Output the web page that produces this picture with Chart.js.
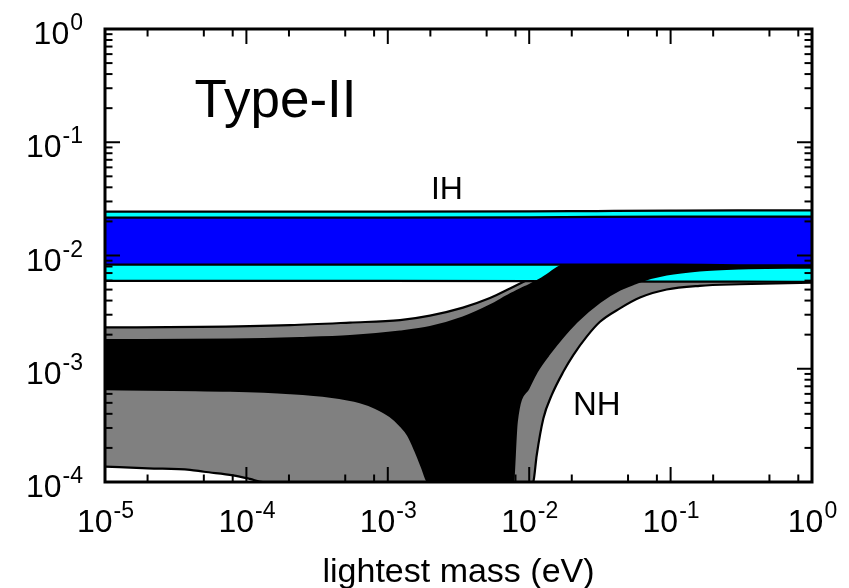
<!DOCTYPE html>
<html lang="en">
<head>
<meta charset="utf-8" />
<title>Type-II</title>
<script src="https://cdn.jsdelivr.net/npm/chart.js@4.4.0/dist/chart.umd.min.js"></script>
<style>
  body { margin: 0; background: #fff; }
</style>
</head>
<body>
<canvas id="meeChart" width="849" height="588"></canvas>
<script>
// lightest mass (eV) against |m_ee| (eV)
// IH: 3 sigma (cyan) and best fit (blue) bands
var ihMass = [1e-5, 1e-4, 1e-3, 1e-2, 3e-2, 0.1, 0.3, 1];
var ih3Hi  = [0.0244, 0.0244, 0.0244, 0.0245, 0.0247, 0.0249, 0.0250, 0.0250];
var ih3Lo  = [0.00598, 0.00598, 0.00598, 0.00595, 0.0059, 0.00588, 0.00587, 0.00586];
var ih1Hi  = [0.0216, 0.0216, 0.0216, 0.0217, 0.0219, 0.0220, 0.0220, 0.0220];
var ih1Lo  = [0.0083, 0.0083, 0.0083, 0.0083, 0.0083, 0.0083, 0.0082, 0.0082];

// NH: 3 sigma (grey) upper and lower edges
var nh3HiMass = [1e-5, 4.696e-5, 2.033e-4, 5.40e-4, 1.22e-3, 1.988e-3, 3.401e-3, 5.28e-3, 7.31e-3, 9.647e-3, 1.293e-2, 3.17e-2, 9.91e-2, 1];
var nh3Hi     = [2.318e-3, 2.342e-3, 2.429e-3, 2.557e-3, 2.690e-3, 2.948e-3, 3.469e-3, 4.209e-3, 5.108e-3, 6.073e-3, 7.37e-3, 0.0125, 0.0186, 0.023];
var nh3LoMass = [1e-5, 2.01e-5, 3.99e-5, 5.01e-5, 8.04e-5, 1.06e-4, 1.31e-4, 1.47e-4, 1.66e-4, 9.0e-3, 1.038e-2, 1.069e-2, 1.13e-2, 1.259e-2, 1.442e-2, 1.742e-2, 2.05e-2, 2.55e-2, 3.167e-2, 4.386e-2, 6.075e-2, 9.384e-2, 0.1606, 0.3082, 1];
var nh3Lo     = [1.368e-4, 1.321e-4, 1.282e-4, 1.231e-4, 1.146e-4, 1.067e-4, 1.0e-4, 9.64e-5, 1e-8, 1e-8, 8.45e-5, 1.0e-4, 1.722e-4, 3.636e-4, 5.843e-4, 9.39e-4, 1.319e-3, 1.922e-3, 2.599e-3, 3.413e-3, 4.252e-3, 5.005e-3, 5.397e-3, 5.575e-3, 5.759e-3];

// NH: best fit (black) upper and lower edges
var nh1HiMass = [1e-5, 7.66e-5, 2.393e-4, 5.40e-4, 1.22e-3, 1.988e-3, 3.401e-3, 5.28e-3, 7.31e-3, 9.339e-3, 1.1924e-2, 1.598e-2, 2.287e-2, 3.17e-2, 9.91e-2, 1];
var nh1Hi     = [1.79e-3, 1.808e-3, 1.865e-3, 1.942e-3, 2.129e-3, 2.332e-3, 2.830e-3, 3.613e-3, 4.52e-3, 5.266e-3, 6.135e-3, 7.83e-3, 1.01e-2, 1.15e-2, 1.52e-2, 1.75e-2];
var nh1LoMass = [1e-5, 7.66e-5, 2.03e-4, 3.90e-4, 6.357e-4, 8.12e-4, 1.0366e-3, 1.2198e-3, 1.39e-3, 1.582e-3, 1.745e-3, 1.924e-3, 2.021e-3, 2.24e-3, 6.31e-3, 7.62e-3, 7.72e-3, 8.16e-3, 9.86e-3, 1.13e-2, 1.3646e-2, 2.167e-2, 3.167e-2, 4.386e-2, 5.42e-2, 6.075e-2, 9.38e-2, 0.1606, 0.3082, 1];
var nh1Lo     = [6.60e-4, 6.40e-4, 6.09e-4, 5.67e-4, 5.07e-4, 4.53e-4, 3.81e-4, 3.172e-4, 2.588e-4, 1.83e-4, 1.349e-4, 1.0e-4, 8.45e-5, 1e-8, 1e-8, 8.45e-5, 1.0e-4, 3.39e-4, 6.70e-4, 9.39e-4, 1.319e-3, 2.599e-3, 3.904e-3, 5.005e-3, 5.575e-3, 5.914e-3, 6.79e-3, 7.398e-3, 7.70e-3, 7.83e-3];

// ticks
var xMajor = [1e-5, 1e-4, 1e-3, 1e-2, 1e-1, 1];
var xExp = ['-5', '-4', '-3', '-2', '-1', '0'];
var xMinorSteps = [2, 5, 8];
var yMajor = [1e-4, 1e-3, 1e-2, 1e-1, 1];
var yExp = ['-4', '-3', '-2', '-1', '0'];
var yMinorSteps = [2, 3, 4, 5, 6, 7, 8, 9];

var FONT = '"Liberation Sans", Arial, sans-serif';

function pts(xs, ys) {
    return xs.map(function (x, i) { return { x: x, y: ys[i] }; });
}

// upper edge first, lower edge fills up to it (drawn first so both lines stay on top)
function band(hi, lo, color, order) {
    return [{
        data: hi, showLine: true, fill: false,
        borderColor: '#000', order: order
    }, {
        data: lo, showLine: true, fill: '-1',
        backgroundColor: color, borderColor: '#000', order: order
    }];
}

var framePlugin = {
    id: 'frame',
    afterDraw: function (chart) {
        var ctx = chart.ctx, a = chart.chartArea;
        var xs = chart.scales.x, ys = chart.scales.y;
        ctx.save();
        ctx.strokeStyle = '#000';
        ctx.lineWidth = 2;

        function seg(x1, y1, x2, y2) {
            ctx.beginPath(); ctx.moveTo(x1, y1); ctx.lineTo(x2, y2); ctx.stroke();
        }
        function xTick(v, len) {
            var p = xs.getPixelForValue(v);
            seg(p, a.bottom, p, a.bottom - len);
            seg(p, a.top, p, a.top + len);
        }
        function yTick(v, len) {
            var p = ys.getPixelForValue(v);
            seg(a.left, p, a.left + len, p);
            seg(a.right, p, a.right - len, p);
        }

        xMajor.forEach(function (v, i) {
            xTick(v, 15);
            if (i < xMajor.length - 1) xMinorSteps.forEach(function (s) { xTick(v * s, 7.5); });
        });
        yMajor.forEach(function (v, i) {
            yTick(v, 15);
            if (i < yMajor.length - 1) yMinorSteps.forEach(function (s) { yTick(v * s, 7.5); });
        });

        ctx.lineWidth = 3;
        ctx.strokeRect(a.left, a.top, a.right - a.left, a.bottom - a.top);

        // 10^n labels
        ctx.fillStyle = '#000';
        ctx.textBaseline = 'alphabetic';
        ctx.textAlign = 'left';
        function pow10(exp, x, y, align) {
            ctx.font = '32px ' + FONT;
            var w1 = ctx.measureText('10').width;
            ctx.font = '23px ' + FONT;
            var w2 = ctx.measureText(exp).width;
            var left = align === 'right' ? x - w1 - w2 : x - (w1 + w2) / 2;
            ctx.font = '32px ' + FONT;
            ctx.fillText('10', left, y);
            ctx.font = '23px ' + FONT;
            ctx.fillText(exp, left + w1 + 1, y - 14);
        }
        xMajor.forEach(function (v, i) {
            pow10(xExp[i], xs.getPixelForValue(v), a.bottom + 50, 'center');
        });
        yMajor.forEach(function (v, i) {
            pow10(yExp[i], a.left - 23, ys.getPixelForValue(v) + 15, 'right');
        });

        // axis title
        ctx.font = '34px ' + FONT;
        ctx.textAlign = 'center';
        ctx.fillText('lightest mass (eV)', (a.left + a.right) / 2, 582);

        // in-plot labels
        ctx.textAlign = 'left';
        ctx.font = '53px ' + FONT;
        ctx.fillText('Type-II', xs.getPixelForValue(4.3e-5), ys.getPixelForValue(0.168));
        ctx.font = '32px ' + FONT;
        ctx.textAlign = 'center';
        ctx.fillText('IH', xs.getPixelForValue(2.62e-3), ys.getPixelForValue(0.0316));
        ctx.font = '33px ' + FONT;
        ctx.textAlign = 'left';
        ctx.fillText('NH', xs.getPixelForValue(0.0204), ys.getPixelForValue(3.89e-4));
        ctx.restore();
    }
};

var datasets = []
    .concat(band(pts(ihMass, ih1Hi), pts(ihMass, ih1Lo), '#0000FF', 1))
    .concat(band(pts(nh1HiMass, nh1Hi), pts(nh1LoMass, nh1Lo), '#000000', 2))
    .concat(band(pts(ihMass, ih3Hi), pts(ihMass, ih3Lo), '#00FFFF', 3))
    .concat(band(pts(nh3HiMass, nh3Hi), pts(nh3LoMass, nh3Lo), '#808080', 4));

var chart = new Chart(document.getElementById('meeChart').getContext('2d'), {
    type: 'scatter',
    data: { datasets: datasets },
    options: {
        responsive: false,
        animation: false,
        layout: { padding: { left: 105, right: 37, top: 29, bottom: 106 } },
        elements: {
            point: { radius: 0, hoverRadius: 0 },
            line: { borderWidth: 2.2, cubicInterpolationMode: 'monotone' }
        },
        plugins: {
            legend: { display: false },
            tooltip: { enabled: false }
        },
        scales: {
            x: { type: 'logarithmic', min: 1e-5, max: 1, display: false },
            y: { type: 'logarithmic', min: 1e-4, max: 1, display: false }
        }
    },
    plugins: [framePlugin]
});
</script>
</body>
</html>
